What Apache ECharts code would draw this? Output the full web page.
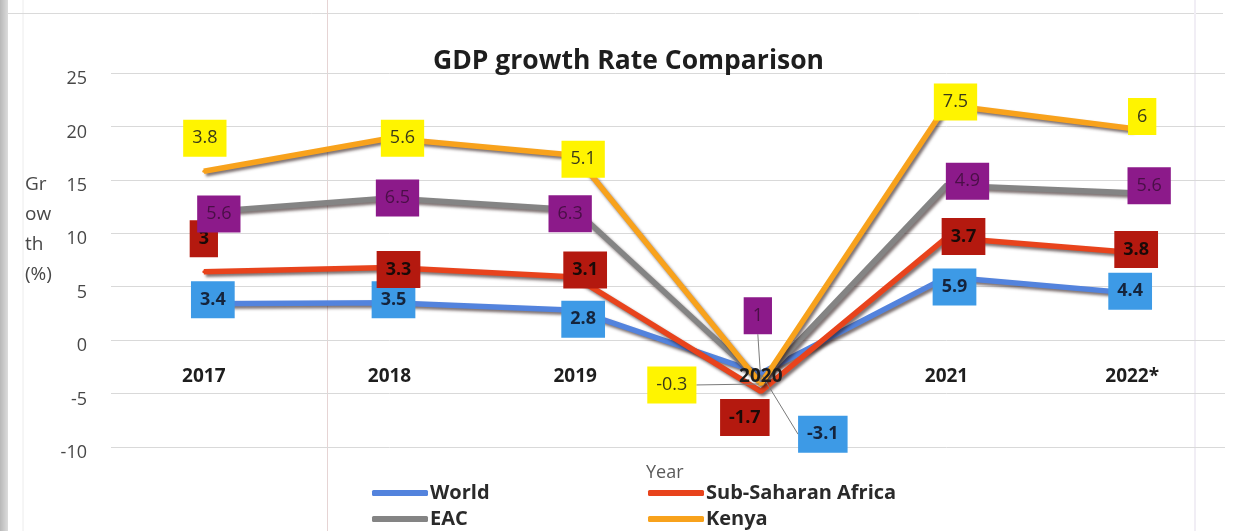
<!DOCTYPE html>
<html>
<head>
<meta charset="utf-8">
<script src="https://cdn.jsdelivr.net/npm/echarts@6/dist/echarts.min.js"></script>
<style>
  html, body { margin: 0; padding: 0; background: #ffffff; }
  #chart { width: 1242px; height: 531px; }
</style>
</head>
<body>
<div id="chart"></div>
<script>
// GDP growth (%) by year, stacked per region
const categories = ['2017', '2018', '2019', '2020', '2021', '2022*'];
const world = [3.4, 3.5, 2.8, -3.1, 5.9, 4.4];
const subSaharan = [3, 3.3, 3.1, -1.7, 3.7, 3.8];
const eac = [5.6, 6.5, 6.3, 1, 4.9, 5.6];
const kenya = [3.8, 5.6, 5.1, -0.3, 7.5, 6];
const yMin = -10, yMax = 25, yStep = 5;

// label nudges in pixels [dx, dy] for each year
const labelShift = {
  'World':              [[9, -4], [4, -3], [8, 9], [62, 61], [8, 10], [-2, -2]],
  'Sub-Saharan Africa': [[0, -33], [9, 2], [10, -7], [-16, 26], [17, -1], [4, -3]],
  'EAC':                [[15, 2], [8, 0], [-5, 4], [-3, -65], [21, -4], [17, -7]],
  'Kenya':              [[1, -33], [13, 0], [8, 4], [-89, 1], [9, -3], [10, -12]]
};

const FONT = '"Open Sans", Lato, sans-serif';

function makeSeries(name, values, lineColor, boxColor, textColor, bold, leaderAt) {
  const shift = labelShift[name];
  return {
    name: name,
    type: 'line',
    stack: 'total',
    stackStrategy: 'all',
    data: values.map((v, i) => ({
      value: v,
      labelLine: { show: leaderAt.indexOf(i) >= 0 }
    })),
    symbol: 'circle',
    symbolSize: 3,
    showSymbol: true,
    color: lineColor,
    itemStyle: { color: lineColor },
    lineStyle: {
      width: 5.5,
      color: lineColor,
      shadowColor: 'rgba(40,20,20,0.6)',
      shadowBlur: 3,
      shadowOffsetX: 2,
      shadowOffsetY: 2.5
    },
    label: {
      show: true,
      position: 'inside',
      backgroundColor: boxColor,
      color: textColor,
      fontFamily: FONT,
      fontSize: 18,
      fontWeight: bold ? 'bold' : 'normal',
      padding: [9, 9, 8, 9],
      lineHeight: 20
    },
    labelLine: {
      show: false,
      lineStyle: { color: '#7a7a7a', width: 1 }
    },
    labelLayout: p => ({ dx: shift[p.dataIndex][0], dy: shift[p.dataIndex][1] }),
    emphasis: { disabled: true },
    z: 2
  };
}

function legendItem(name, left, top) {
  return {
    data: [name],
    left: left,
    top: top,
    padding: 0,
    icon: 'roundRect',
    itemWidth: 56,
    itemHeight: 6,
    itemGap: 0,
    selectedMode: false,
    textStyle: {
      fontFamily: FONT,
      fontSize: 20,
      fontWeight: 'bold',
      color: '#2a2a2a',
      lineHeight: 22,
      padding: [0, 0, 0, -3]
    }
  };
}

const chart = echarts.init(document.getElementById('chart'), null, { renderer: 'canvas' });

chart.setOption({
  animation: false,
  backgroundColor: '#ffffff',
  title: {
    text: 'GDP growth Rate Comparison',
    left: 433,
    top: 48,
    padding: 0,
    textStyle: { fontFamily: FONT, fontSize: 26.5, fontWeight: 'bold', color: '#1e1e1e' }
  },
  graphic: [
    // page edge and paper lines
    { type: 'rect', z: -10, shape: { x: 0, y: 0, width: 8, height: 531 },
      style: { fill: new echarts.graphic.LinearGradient(0, 0, 1, 0, [
        { offset: 0, color: '#b8b8b8' }, { offset: 1, color: '#dcdcdc' }]) } },
    { type: 'line', z: -10, shape: { x1: 23, y1: 0, x2: 23, y2: 531 },
      style: { stroke: '#ececec', lineWidth: 1 } },
    { type: 'line', z: -10, shape: { x1: 8, y1: 13.5, x2: 1223, y2: 13.5 },
      style: { stroke: '#dadada', lineWidth: 1 } },
    { type: 'line', z: -10, shape: { x1: 327.5, y1: 0, x2: 327.5, y2: 531 },
      style: { stroke: '#e6d4d4', lineWidth: 1 } },
    { type: 'line', z: -10, shape: { x1: 1195, y1: 0, x2: 1195, y2: 531 },
      style: { stroke: '#f1eef5', lineWidth: 2 } },
    // axis titles
    { type: 'text', left: 25, top: 170, z: 5,
      style: { text: 'Gr\now\nth\n(%)', fontFamily: FONT, fontSize: 19, lineHeight: 30, fill: '#474747' } },
    { type: 'text', left: 646, top: 464, z: 5,
      style: { text: 'Year', fontFamily: FONT, fontSize: 18, fill: '#5a5a5a' } }
  ],
  legend: [
    legendItem('World', 372, 482),
    legendItem('Sub-Saharan Africa', 648, 482),
    legendItem('EAC', 372, 508),
    legendItem('Kenya', 648, 508)
  ],
  grid: { left: 111, right: 17, top: 73, bottom: 84, containLabel: false },
  xAxis: {
    type: 'category',
    data: categories,
    boundaryGap: true,
    z: 6,
    axisLine: { show: false, onZero: false },
    axisTick: { show: false },
    axisLabel: {
      margin: -80,
      fontFamily: FONT,
      fontSize: 19,
      fontWeight: 'bold',
      color: '#1e1e1e'
    },
    splitLine: { show: false }
  },
  yAxis: {
    type: 'value',
    min: yMin,
    max: yMax,
    interval: yStep,
    axisLine: { show: false },
    axisTick: { show: false },
    axisLabel: {
      margin: 24,
      fontFamily: FONT,
      fontSize: 18,
      color: '#474747',
      verticalAlign: 'top',
      lineHeight: 12
    },
    splitLine: { lineStyle: { color: '#d9d9d9', width: 1 } }
  },
  series: [
    makeSeries('World', world, '#5383dd', '#3d9ae6', '#15243c', true, [3]),
    makeSeries('Sub-Saharan Africa', subSaharan, '#e8431c', '#b4190f', '#1a0a08', true, []),
    makeSeries('EAC', eac, '#848484', '#8c1a8a', '#4a0f47', false, [3]),
    makeSeries('Kenya', kenya, '#f8a21c', '#fff400', '#3a3a1a', false, [3])
  ]
});
</script>
</body>
</html>
